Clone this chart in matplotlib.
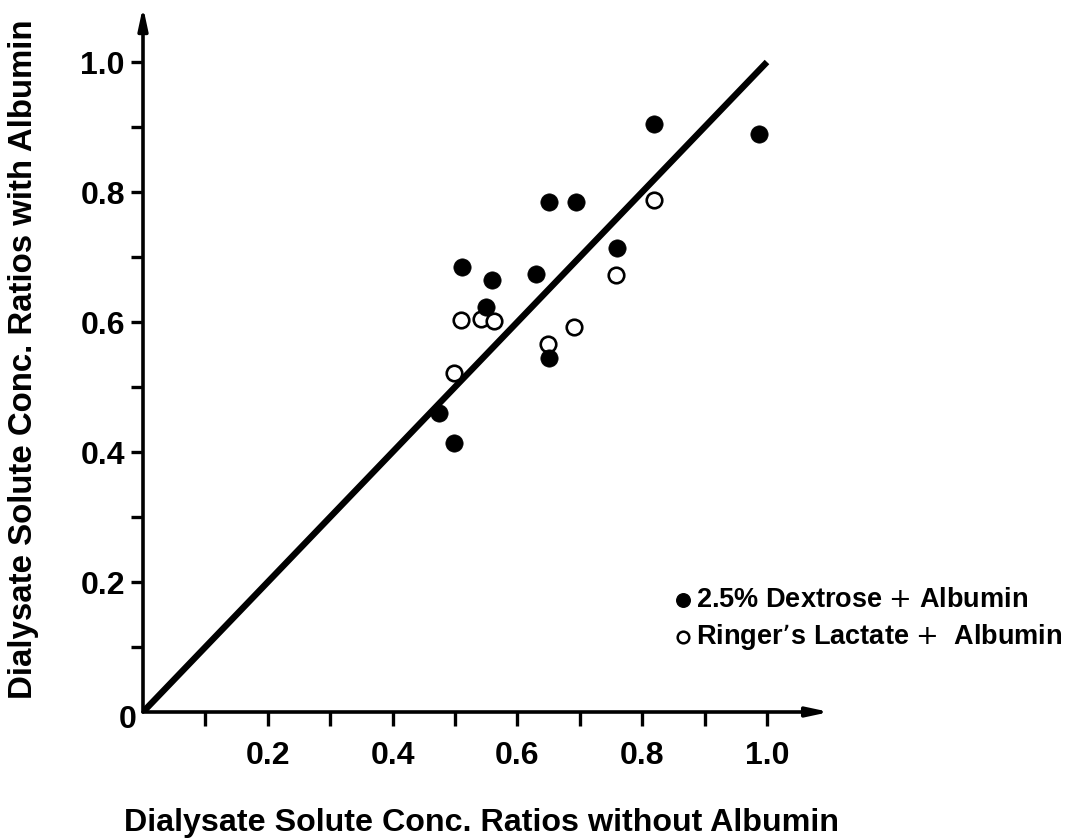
import matplotlib
matplotlib.use("Agg")
import matplotlib.pyplot as plt

# Dialysate solute concentration ratios
dex_x = [0.819, 0.987, 0.651, 0.694, 0.759, 0.512, 0.559, 0.630, 0.550, 0.650, 0.475, 0.499]
dex_y = [0.904, 0.890, 0.784, 0.785, 0.714, 0.684, 0.664, 0.674, 0.623, 0.544, 0.460, 0.414]
rl_x = [0.819, 0.758, 0.510, 0.542, 0.562, 0.691, 0.649, 0.498]
rl_y = [0.787, 0.672, 0.603, 0.605, 0.602, 0.592, 0.566, 0.521]

line_x = [0.0, 1.0]
line_y = [0.0, 1.0]

major_ticks = [0.2, 0.4, 0.6, 0.8, 1.0]
major_labels = ["0.2", "0.4", "0.6", "0.8", "1.0"]
minor_ticks = [0.1, 0.3, 0.5, 0.7, 0.9]

legend_labels = ["2.5% Dextrose $+$ Albumin", "Ringer\u2019s Lactate $+$  Albumin"]
xlabel = "Dialysate Solute Conc. Ratios without Albumin"
ylabel = "Dialysate Solute Conc. Ratios with Albumin"

W, H = 1078, 839
fig = plt.figure(figsize=(W / 100, H / 100), dpi=100)

x0_px, y0_px = 143, 712
sx, sy = 624.0, 650.0
xmax, ymax = 1.10, 1.085
ax = fig.add_axes([x0_px / W, (H - y0_px) / H, xmax * sx / W, ymax * sy / H])
ax.set_xlim(0, xmax)
ax.set_ylim(0, ymax)
for s in ax.spines.values():
    s.set_visible(False)

fam = ["Liberation Sans", "DejaVu Sans"]

# axes with arrowheads
arrow_kw = dict(arrowstyle="-|>,head_length=1.3,head_width=0.28",
                lw=2.6, color="black", shrinkA=0, shrinkB=0)
ax.annotate("", xy=(1.10, 0), xytext=(0, 0), xycoords="data",
            arrowprops=arrow_kw, annotation_clip=False)
ax.annotate("", xy=(0, 1.085), xytext=(0, 0), xycoords="data",
            arrowprops=arrow_kw, annotation_clip=False)

ax.set_xticks(major_ticks)
ax.set_xticklabels(major_labels)
ax.set_xticks(minor_ticks, minor=True)
ax.set_yticks(major_ticks)
ax.set_yticklabels(major_labels)
ax.set_yticks(minor_ticks, minor=True)
ax.tick_params(axis="x", which="both", direction="out", length=10, width=2.4, pad=11)
ax.tick_params(axis="y", which="both", direction="out", length=9, width=2.4, pad=4)
for lab in ax.get_xticklabels() + ax.get_yticklabels():
    lab.set_fontfamily(fam)
    lab.set_fontweight("bold")
    lab.set_fontsize(23)

ax.text(-0.01, -0.012, "0", ha="right", va="center", fontsize=23,
        fontweight="bold", family=fam, clip_on=False)

# identity line
ax.plot(line_x, line_y, color="black", lw=4.6, solid_capstyle="butt", zorder=2)

# data points
ax.scatter(rl_x, rl_y, s=125, facecolor="white", edgecolor="black",
           linewidths=1.9, zorder=3)
ax.scatter(dex_x, dex_y, s=155, facecolor="black", edgecolor="black",
           linewidths=0.5, zorder=4)

# key
ax.scatter([0.866], [0.172], s=95, facecolor="black", edgecolor="black",
           zorder=4, clip_on=False)
ax.scatter([0.866], [0.115], s=70, facecolor="white", edgecolor="black",
           linewidths=1.8, zorder=4, clip_on=False)
ax.text(0.887, 0.172, legend_labels[0], ha="left", va="center", fontsize=19.5,
        fontweight="bold", family=fam)
ax.text(0.887, 0.115, legend_labels[1], ha="left", va="center", fontsize=19.5,
        fontweight="bold", family=fam)

fig.text(482 / W, 1 - 823 / H, xlabel, ha="center", va="center",
         fontsize=23.2, fontweight="bold", family=fam)
fig.text(24 / W, 1 - 359 / H, ylabel, ha="center", va="center", rotation=90,
         fontsize=23.8, fontweight="bold", family=fam)

fig.savefig("out.png", dpi=100, facecolor="white")
